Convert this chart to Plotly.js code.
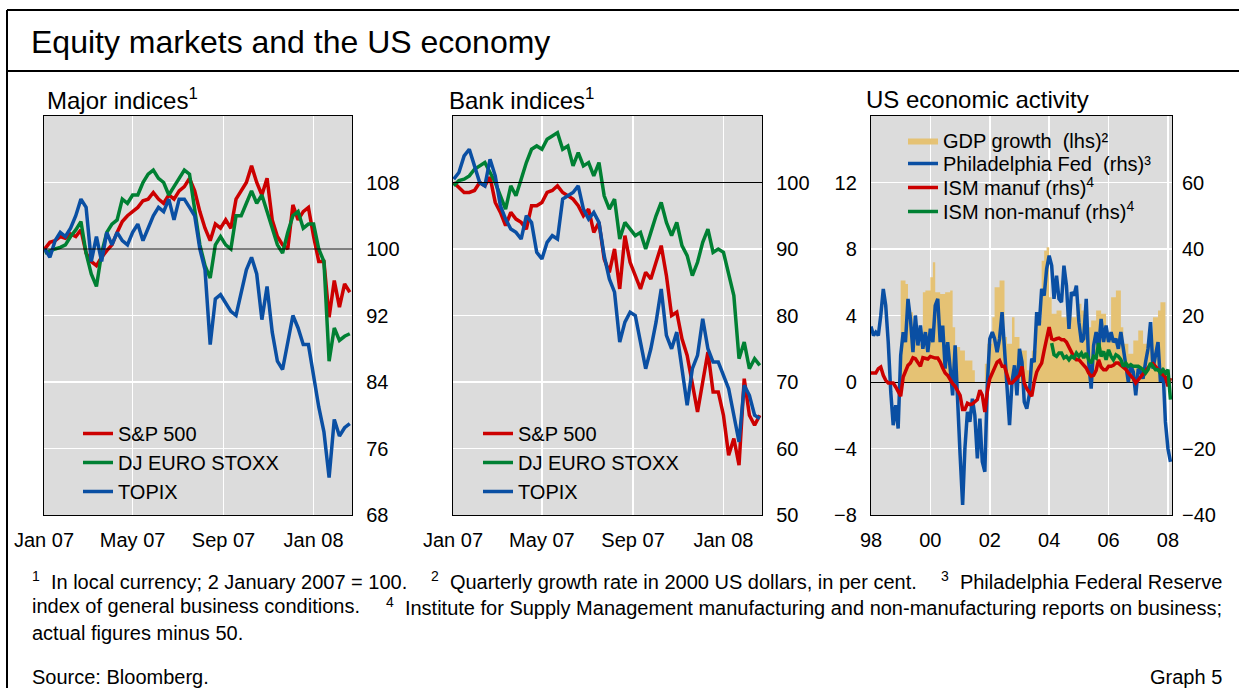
<!DOCTYPE html>
<html>
<head>
<meta charset="utf-8">
<script src="https://cdn.plot.ly/plotly-3.0.1.min.js"></script>
<style>
html,body{margin:0;padding:0;background:#ffffff;}
#chart{width:1239px;height:688px;}
</style>
</head>
<body>
<div id="chart"></div>
<script>
// ---------------- DATA ----------------
// Weekly observations, 2 Jan 2007 to 19 Feb 2008 (2 January 2007 = 100)
const weekStart = '2007-01-02';
const weekCount = 60;

const majorSP500 = [100,100.8,101,101.5,101.3,101.8,101.5,102.3,99.5,98.5,98,99,99.8,100.5,102,103.3,104,104.5,105,105.8,
  106,106.8,106,105.5,106.5,106,107,107.5,108.5,107,104.5,102.5,101,103,102.5,103.5,102.5,106,107,108,
  110,108,106.5,108.5,103.5,101.5,100.5,100,105.3,103.5,104.5,105,101.5,98.5,98.5,91.8,96.2,93,95.8,94.8];
const majorEuroStoxx = [99.5,99.8,100,100.2,100.5,101.5,102.3,103.3,99.5,97,95.5,99.5,102,103,103.5,106,105.5,106.5,106.5,108,
  109,109.5,108.5,108,106.5,107.5,108.5,109.5,109,104.5,100.5,98,96.5,100.5,101.5,100.5,100,104,104,105.5,
  107,105.5,106.5,104.5,102.5,100.5,99.5,102,104,104.5,102.5,103,103,100,98.5,86.5,90.5,89,89.5,89.8];
const majorTopix = [100,99,101,102,101.5,102.5,104,106,105,98.5,101.5,98.5,102,100.5,102,101,100.5,102,103,101,
  102.5,104,105,104.5,106,103.5,106,106,105,104,100,97.5,88.5,94,94.5,93.5,92.5,92,95,97.5,
  99,97,91.5,95.5,90,86.5,85.5,88.5,92,90.5,88.5,88.5,84.5,81,78,72.5,79.5,77.5,78.5,79];

const bankSP500 = [100,99.2,98.5,98.5,98.8,100,99.5,100.8,97,95.5,93.5,95.5,94.5,94,93,96.5,96.5,97,98.5,98.8,
  99.5,98.5,98,97.5,96.5,95,96,92.5,94,88.5,86.5,90,84,92,88,86,84,86.5,85.5,88,
  90.5,86,80,80.5,76.5,74,70,65.5,70,74.5,68.5,68.5,65,59,61.5,57.5,70.5,65,63.5,65];
const bankEuroStoxx = [99.5,100.3,100.5,101,102,102.5,103,101.5,100,98,96,99.5,98,100.5,103,105,105.5,105,106.5,107,
  107.5,105,105.5,102.5,104.5,102.5,103,101,103,98,96,97.5,91.5,94,93,92,92.5,90,92.5,95,
  97,94,92,94,90.5,89,86,88,91,93,89.5,90,89.5,86,83,73.5,76,72,73.5,72.5];
const bankTopix = [100.5,101.5,104,105,102.5,100,99.5,103.5,101,96.5,94.5,93,92.5,91.5,95,94,89.5,88.5,91,92,
  91.5,97.5,98,98.5,99.5,96,94.5,95.5,94,89,85.5,83.5,76,79,80.5,80,76,72,75,79,
  84,77,75,77.5,72,66.5,72,74,79.5,75,73,73,71,69,65,61,69.5,68,65,64.5];

// Monthly observations, Jan 1998 to Feb 2008 (actual figures minus 50 for ISM)
const monthStart = '1998-01';
const philadelphiaFed = [16.7,14,15,14,20,28,23,12,-3,-13,-7,-14,
  8,15,12,25,19,9,20,11,17,10,15,9,
  16,12,23,25,12,17,4,12,4,-4,11,-3,
  -22,-37,-20,-9,-12,-5,-10,-23,-11,-24,-27,-1,
  13,15,13,9,13,21,9,-4,-13,0,5,-4,
  10,6,-6,-8,-4,7,6,21,17,28,26,34,
  38,35,25,32,25,24,35,29,16,27,26,29,
  18,12,13,25,6,-2,11,15,10,19,12,17,
  12,15,12,13,10,15,10,5,0,5,3,-4,
  4,3,1,6,10,18,4,8,12,0,4,-12,
  -20,-24];
const ismManuf = [2.7,2.7,2.7,4,4.5,2,0.5,-0.3,-0.3,-0.3,-1.5,-3,
  -4.3,1.5,3.5,5,5.7,7.3,7,6,4.7,7.3,7.2,6.9,
  7.7,7.3,7.2,7.2,6,4.2,2.7,2,0.5,-0.5,-1.3,-2.7,
  -4,-8.3,-8.3,-6.4,-6.8,-6.6,-6,-5.3,-2.5,-4,-9,-3,
  1,2.7,4.5,6,6.5,4.7,4.7,2,-0.3,-0.3,0.5,1.2,
  2,4.7,-0.3,-2,-3.3,-4.3,0,3,4.5,5.7,9.5,13,
  16.5,13,12.7,13,13.2,12.7,12.7,12,10.5,9,7.5,6.7,
  6.7,5.8,5,4.2,2.7,1.8,2,3.5,6.7,4.5,3.7,3.7,
  4.7,4.7,5,5.7,5.7,5,4.3,3.8,2.7,2,1,-0.3,
  0.7,1.5,2.5,3.5,4.5,5.2,5.5,4.8,3.8,2.9,2.2,1.5,
  -1.3,1.2];
const ismNonManufStart = '2004-02';
const ismNonManuf = [11.7,8.2,7.7,8.7,8.7,7.2,7.7,6.7,7.7,7.2,8.7,7.7,8.7,7.2,8.7,6.7,5.7,7.7,7.2,11.7,
  7.7,9.2,6.7,9.7,7.7,6.7,8.2,7.7,6.7,4.7,5.7,4.7,5.2,4.7,4.7,4.7,4.2,3.7,2.7,3.7,
  5.7,4.7,3.7,3.7,2.7,3.7,2.7,3.7,-5.3];

// US GDP growth (lhs), value holds from each start month to the next
const gdpStart = ['1999-01','1999-03','1999-04','1999-06','1999-08','1999-10','1999-11',
  '2000-01','2000-02','2000-03','2000-05','2000-07','2000-09','2000-10','2000-11',
  '2001-01','2001-03','2001-06','2001-07','2001-11','2001-12',
  '2002-02','2002-03','2002-05','2002-07','2002-08','2002-10','2002-11',
  '2003-01','2003-04','2003-06','2003-08','2003-10','2003-11','2003-12',
  '2004-01','2004-02','2004-04','2004-06','2004-08','2004-10','2004-12',
  '2005-02','2005-04','2005-06','2005-08','2005-10','2005-12',
  '2006-01','2006-02','2006-04','2006-06','2006-07','2006-09','2006-11',
  '2007-01','2007-03','2007-05','2007-07','2007-09','2007-10','2007-12','2008-01'];
const gdpGrowth = [6.1,5.9,4.2,3.5,2.3,5.4,5.5,
  6.3,7.2,5.4,5.3,5.4,5.5,3.3,2.1,
  1.9,1.3,0.7,0,1.1,2.3,
  3.9,5.7,6.1,2.7,2.3,3.9,2.7,
  1.9,0.7,1.9,3.7,7.3,7.9,8.1,
  5.1,4.1,4.3,3.9,4.5,3.9,4.7,
  4.3,3.3,3.7,4.3,4.1,3.1,
  2.7,5.1,5.5,3.3,2.3,1.7,2.5,
  3.1,2.3,2.7,3.9,4.3,4.8,0.6,0.6];

// Tick labels
const shortTickDates = ['2007-01-01','2007-05-01','2007-09-01','2008-01-01'];
const shortTickText = ['Jan 07','May 07','Sep 07','Jan 08'];
const longTickDates = ['1998-01-01','2000-01-01','2002-01-01','2004-01-01','2006-01-01','2008-01-01'];
const longTickText = ['98','00','02','04','06','08'];
const majorTicks = [68,76,84,92,100,108];
const bankTicks = [50,60,70,80,90,100];
const lhsTicks = [-8,-4,0,4,8,12];
const rhsTicks = [-40,-20,0,20,40,60];

// ---------------- HELPERS ----------------
function weeklyDates(start, n){
  const out=[]; const d0=new Date(start+'T00:00:00Z');
  for(let k=0;k<n;k++){const d=new Date(d0.getTime()+k*7*86400000); out.push(d.toISOString().slice(0,10));}
  return out;
}
function monthlyDates(start, n){
  const out=[]; let y=+start.slice(0,4), m=+start.slice(5,7)-1;
  for(let i=0;i<n;i++){const yy=y+Math.floor((m+i)/12), mm=(m+i)%12+1; out.push(yy+'-'+String(mm).padStart(2,'0')+'-01');}
  return out;
}
const weeks = weeklyDates(weekStart, weekCount);
const months = monthlyDates(monthStart, philadelphiaFed.length);
const nonManufMonths = monthlyDates(ismNonManufStart, ismNonManuf.length);

const W=1239, H=688;
const px = x => x/W;
const py = y => 1 - y/H;
const FONT = 'Liberation Sans, Arial, Helvetica, sans-serif';
const RED='#cc0000', GREEN='#008033', BLUE='#0a4fa3', TAN='#e5c274';
const LW=3.5;

function line(x,y,name,color,xa,ya,lg){
  return {type:'scatter',mode:'lines',x:x,y:y,name:name,line:{color:color,width:LW},
    xaxis:xa,yaxis:ya,legend:lg,hoverinfo:'skip'};
}

const traces = [
  line(weeks,majorSP500,'S&P 500',RED,'x','y','legend'),
  line(weeks,majorEuroStoxx,'DJ EURO STOXX',GREEN,'x','y','legend'),
  line(weeks,majorTopix,'TOPIX',BLUE,'x','y','legend'),
  line(weeks,bankSP500,'S&P 500',RED,'x2','y2','legend2'),
  line(weeks,bankEuroStoxx,'DJ EURO STOXX',GREEN,'x2','y2','legend2'),
  line(weeks,bankTopix,'TOPIX',BLUE,'x2','y2','legend2'),
  {type:'scatter',mode:'lines',x:gdpStart,y:gdpGrowth,name:'GDP growth  (lhs)²',
    line:{shape:'hv',width:0,color:TAN},fill:'tozeroy',fillcolor:TAN,
    xaxis:'x3',yaxis:'y3',legend:'legend3',hoverinfo:'skip'},
  line(months,philadelphiaFed,'Philadelphia Fed  (rhs)³',BLUE,'x3','y4','legend4'),
  line(months,ismManuf,'ISM manuf (rhs)<sup>4</sup>',RED,'x3','y4','legend5'),
  line(nonManufMonths,ismNonManuf,'ISM non-manuf (rhs)<sup>4</sup>',GREEN,'x3','y4','legend6')
];

const yDom = [py(515), py(116)];
const baseX = {type:'date',showgrid:true,gridcolor:'#ffffff',gridwidth:1.5,showline:true,mirror:true,
  linecolor:'#000',linewidth:1.2,ticks:'',ticklabelstandoff:7,zeroline:false,fixedrange:true,
  tickfont:{size:20,color:'#000'},tickmode:'array'};
const baseY = {showgrid:true,gridcolor:'#ffffff',gridwidth:1.5,showline:true,mirror:true,
  linecolor:'#000',linewidth:1.2,ticks:'',ticklabelstandoff:9,zeroline:false,fixedrange:true,
  tickfont:{size:20,color:'#000'},tickmode:'array'};

const legendBase = {bgcolor:'rgba(0,0,0,0)',borderwidth:0,font:{size:20,color:'#000',family:FONT},
  xanchor:'left',yanchor:'top',tracegroupgap:0,itemclick:false,itemdoubleclick:false};
// a legend whose first row is centred on pixel row c, text starting at pixel column t
function legendAt(t,c){ return Object.assign({},legendBase,{x:px(t-40),y:py(c-19)}); }

function ann(text,x,y,size,xanchor){
  return {text:text,x:px(x),y:py(y),xref:'paper',yref:'paper',xanchor:xanchor||'left',yanchor:'middle',
    showarrow:false,font:{size:size,color:'#000',family:FONT},borderpad:0};
}
function hline(xref,yref,v){
  return {type:'line',xref:xref,x0:0,x1:1,yref:yref,y0:v,y1:v,layer:'above',line:{color:'#000',width:1}};
}
function frame(x0,y0,x1,y1){
  return {type:'line',xref:'paper',yref:'paper',x0:px(x0),x1:px(x1),y0:py(y0),y1:py(y1),layer:'above',
    line:{color:'#000',width:2}};
}

const layout = {
  width:W,height:H,margin:{l:0,r:0,t:0,b:0},
  paper_bgcolor:'#ffffff',plot_bgcolor:'#dcdcdc',
  font:{family:FONT,size:20,color:'#000'},
  showlegend:true,
  xaxis:Object.assign({},baseX,{domain:[px(44),px(352)],range:['2007-01-01','2008-02-22'],
    tickvals:shortTickDates,ticktext:shortTickText,anchor:'y'}),
  yaxis:Object.assign({},baseY,{domain:yDom,range:[68,116],tickvals:majorTicks,side:'right',anchor:'x'}),
  xaxis2:Object.assign({},baseX,{domain:[px(453),px(762)],range:['2007-01-01','2008-02-22'],
    tickvals:shortTickDates,ticktext:shortTickText,anchor:'y2'}),
  yaxis2:Object.assign({},baseY,{domain:yDom,range:[50,110],tickvals:bankTicks,side:'right',anchor:'x2'}),
  xaxis3:Object.assign({},baseX,{domain:[px(871),px(1172)],range:['1998-01-01','2008-02-20'],
    tickvals:longTickDates,ticktext:longTickText,anchor:'y3'}),
  yaxis3:Object.assign({},baseY,{domain:yDom,range:[-8,16],tickvals:lhsTicks,side:'left',anchor:'x3',
    zeroline:true,zerolinecolor:'#000',zerolinewidth:1}),
  yaxis4:Object.assign({},baseY,{range:[-40,80],tickvals:rhsTicks,side:'right',overlaying:'y3',
    anchor:'x3',showgrid:false,showline:false}),
  legend:legendAt(118,433),
  legend2:legendAt(518,433),
  legend3:legendAt(943,140),
  legend4:legendAt(943,163),
  legend5:legendAt(943,187),
  legend6:legendAt(943,211),
  shapes:[
    hline('x domain','y',100),
    hline('x2 domain','y2',100),
    frame(7,10,1239,10),
    frame(7,71,1239,71),
    frame(7,10,7,688)
  ],
  annotations:[
    ann('Equity markets and the US economy',30,42,32),
    ann('Major indices<sup>1</sup>',46,99,24),
    ann('Bank indices<sup>1</sup>',448,99,24),
    ann('US economic activity',865,99,24),
    ann('<sup>1</sup>  In local currency; 2 January 2007 = 100.',31,580,20),
    ann('<sup>2</sup>  Quarterly growth rate in 2000 US dollars, in per cent.',430,580,20),
    ann('<sup>3</sup>  Philadelphia Federal Reserve',1223,580,20,'right'),
    ann('index of general business conditions.',31,606,20),
    ann('<sup>4</sup>  Institute for Supply Management manufacturing and non-manufacturing reports on business;',1223,606,20,'right'),
    ann('actual figures minus 50.',31,633,20),
    ann('Source: Bloomberg.',31,677,20),
    ann('Graph 5',1223,677,20,'right')
  ]
};

Plotly.newPlot('chart',traces,layout,{displayModeBar:false,staticPlot:true});
</script>
</body>
</html>
